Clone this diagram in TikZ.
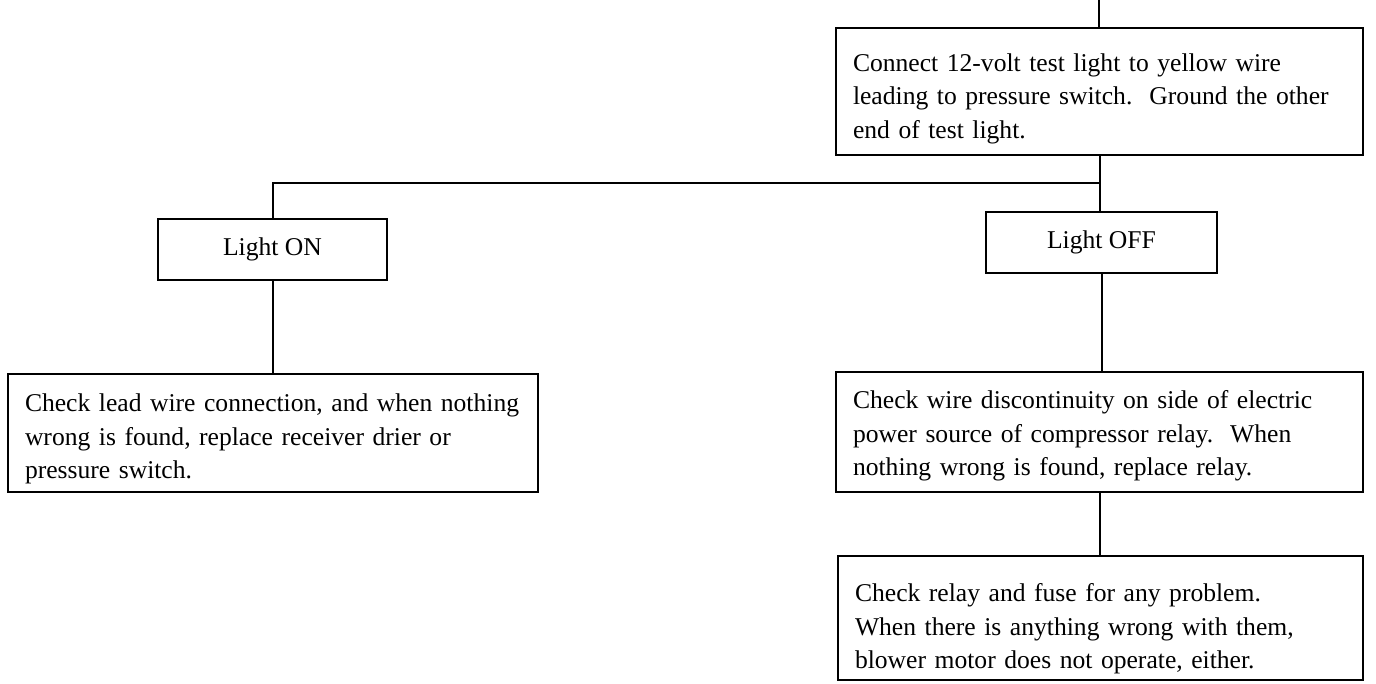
\documentclass[tikz,border=0pt]{standalone}
\usepackage{fontspec}
\setmainfont{Liberation Serif}
\newcommand\tstr[1]{\rule{0pt}{#1pt}}
\begin{document}
\begin{tikzpicture}[x=1pt,y=-1pt,
  every node/.style={font=\fontsize{25.6}{33.5}\selectfont},
  box/.style={draw,line width=2.3pt,inner xsep=17pt,inner ysep=0pt,align=left},
  sbox/.style={draw,line width=2.3pt,inner sep=0pt,align=center},
  conn/.style={line width=2pt}]
\useasboundingbox[fill=white] (0,0) rectangle (1376,683);
\node[box,text width=493pt,minimum height=127pt] (top) at (1099.5,91.5)
  {\tstr{32}\mbox{Connect 12-volt test light to yellow wire}\\\mbox{leading to pressure switch.\ \ Ground the other}\\\mbox{end of test light.}};
\node[sbox,minimum width=229pt,minimum height=61pt] (on) at (272.5,249.5) {Light ON};
\node[sbox,minimum width=231pt,minimum height=61pt] (off) at (1101.5,242.5) {Light OFF};
\node[box,text width=496pt,minimum height=118pt] (left) at (273,433)
  {\tstr{30}\mbox{Check lead wire connection, and when nothing}\\\mbox{wrong is found, replace receiver drier or}\\\mbox{pressure switch.}};
\node[box,text width=493pt,minimum height=120pt] (mid) at (1099.5,432)
  {\tstr{26}\mbox{Check wire discontinuity on side of electric}\\\mbox{power source of compressor relay.\ \ When}\\\mbox{nothing wrong is found, replace relay.}};
\node[box,text width=491pt,minimum height=124pt] (bot) at (1100.5,618)
  {\tstr{40}\mbox{Check relay and fuse for any problem.}\\\mbox{When there is anything wrong with them,}\\\mbox{blower motor does not operate, either.}};
\coordinate (in) at (1099,0);
\coordinate (junc) at (1100,183);
\draw[conn] (in) -- (in |- top.north);
\draw[conn] (top.south) -- (top.south |- off.north);
\draw[conn] (on.north) |- (junc);
\draw[conn] (on.south) -- (on.south |- left.north);
\draw[conn] (off.south) -- (off.south |- mid.north);
\draw[conn] (mid.south) -- (mid.south |- bot.north);
\end{tikzpicture}
\end{document}
